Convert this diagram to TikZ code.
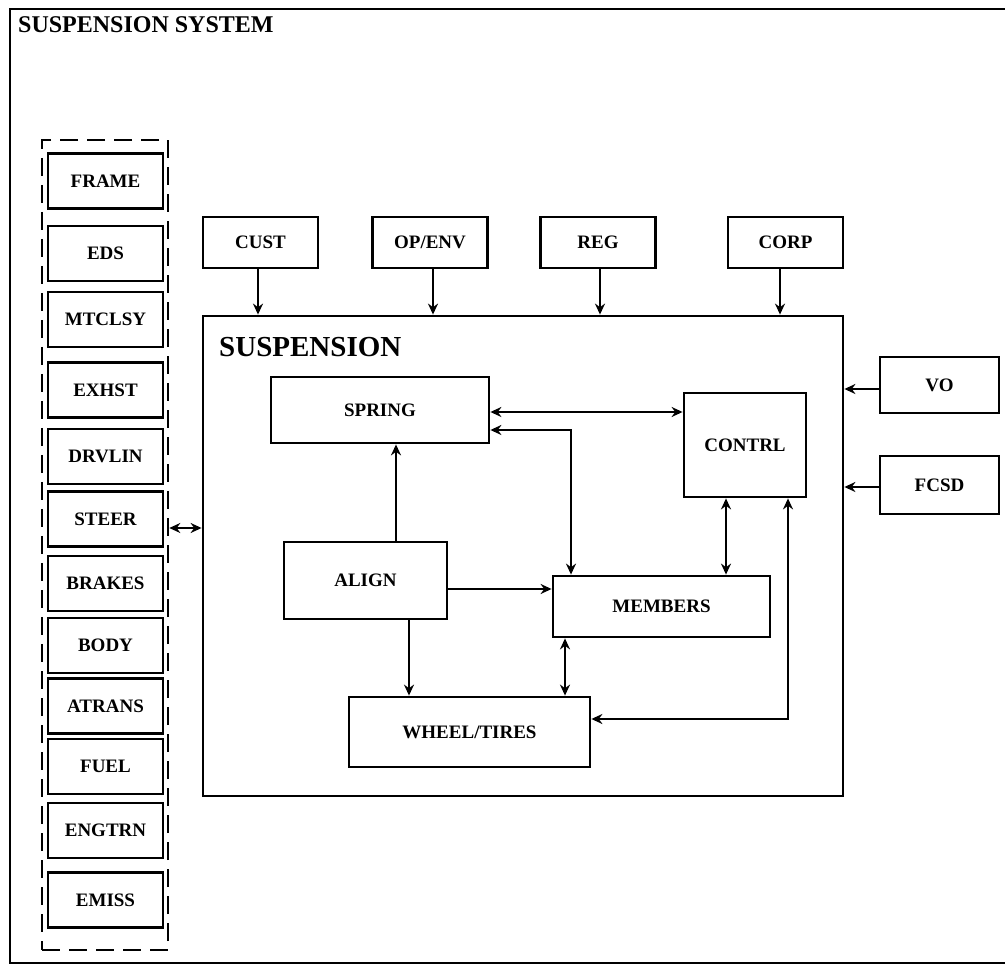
\documentclass[tikz,border=0pt]{standalone}
\usepackage{fontspec}
\setmainfont{Liberation Serif}
\usetikzlibrary{arrows.meta,calc}
\begin{document}
\begin{tikzpicture}[x=1pt,y=-1pt,
  box/.style={draw, line width=2.8pt, inner sep=0pt, minimum width=115pt, minimum height=55pt,
    font=\bfseries\fontsize{19pt}{19pt}\selectfont},
  con/.style={line width=2.3pt, -{Stealth[length=11pt,width=10pt]}},
  dcon/.style={line width=2.3pt, {Stealth[length=11pt,width=10pt]}-{Stealth[length=11pt,width=10pt]}}]
\useasboundingbox (0,0) rectangle (1005,965);
\fill[white] (0,0) rectangle (1005,965);
% outer frame
\draw[line width=2.4pt] (1005,9) -- (10,9) -- (10,963) -- (1005,963);
\node[anchor=base west, inner sep=0pt, font=\bfseries\fontsize{24pt}{24pt}\selectfont] (title) at (18,33) {SUSPENSION SYSTEM};
% left group
\node[draw, line width=2.6pt, dash pattern=on 18pt off 9pt, inner sep=0pt, minimum width=126pt, minimum height=810pt] (group) at (105,545) {};
\node[box] (frame)  at (105.5,181)   {FRAME};
\node[box] (eds)    at (105.5,253.5) {EDS};
\node[box] (mtclsy) at (105.5,319.5) {MTCLSY};
\node[box] (exhst)  at (105.5,390)   {EXHST};
\node[box] (drvlin) at (105.5,456.5) {DRVLIN};
\node[box] (steer)  at (105.5,519)   {STEER};
\node[box] (brakes) at (105.5,583.5) {BRAKES};
\node[box] (body)   at (105.5,645.5) {BODY};
\node[box] (atrans) at (105.5,706)   {ATRANS};
\node[box] (fuel)   at (105.5,766.5) {FUEL};
\node[box] (engtrn) at (105.5,830.5) {ENGTRN};
\node[box] (emiss)  at (105.5,900)   {EMISS};
% suspension
\node[draw, line width=2.8pt, inner sep=0pt, minimum width=640pt, minimum height=480pt] (susp) at (523,556) {};
\node[anchor=base west, inner sep=0pt, font=\bfseries\fontsize{29pt}{29pt}\selectfont] (susplabel) at (219,357) {SUSPENSION};
% top boxes
\node[box, minimum height=51pt] (cust)  at (260.5,242.5) {CUST};
\node[box, minimum height=51pt] (openv) at (430,242.5)   {OP/ENV};
\node[box, minimum height=51pt] (reg)   at (598,242.5)   {REG};
\node[box, minimum height=51pt] (corp)  at (785.5,242.5) {CORP};
% right boxes
\node[box, minimum width=119pt, minimum height=56pt] (vo)   at (939.5,385) {VO};
\node[box, minimum width=119pt, minimum height=58pt] (fcsd) at (939.5,485) {FCSD};
% inner boxes
\node[box, minimum width=218pt, minimum height=66pt]  (spring)  at (380,410)    {SPRING};
\node[box, minimum width=122pt, minimum height=104pt] (contrl)  at (745,445)    {CONTRL};
\node[box, minimum width=163pt, minimum height=77pt]  (align)   at (365.5,580.5) {ALIGN};
\node[box, minimum width=217pt, minimum height=61pt]  (members) at (661.5,606.5) {MEMBERS};
\node[box, minimum width=241pt, minimum height=70pt]  (wheel)   at (469.5,732)  {WHEEL/TIRES};
% connectors
\draw[dcon] (group.east |- 0,528) -- (susp.west |- 0,528);
\draw[con] (cust.south -| 258,0) -- (susp.north -| 258,0);
\draw[con] (openv.south -| 433,0) -- (susp.north -| 433,0);
\draw[con] (reg.south -| 600,0) -- (susp.north -| 600,0);
\draw[con] (corp.south -| 780,0) -- (susp.north -| 780,0);
\draw[con] (vo.west |- 0,389) -- (susp.east |- 0,389);
\draw[con] (fcsd.west |- 0,487) -- (susp.east |- 0,487);
\draw[dcon] (spring.east |- 0,412) -- (contrl.west |- 0,412);
\draw[dcon] (spring.east |- 0,430) -| (members.north -| 571,0);
\draw[con] (align.north -| 396,0) -- (spring.south -| 396,0);
\draw[con] (align.east |- 0,589) -- (members.west |- 0,589);
\draw[con] (align.south -| 409,0) -- (wheel.north -| 409,0);
\draw[dcon] (members.south -| 565,0) -- (wheel.north -| 565,0);
\draw[dcon] (contrl.south -| 726,0) -- (members.north -| 726,0);
\draw[dcon] (wheel.east |- 0,719) -| (contrl.south -| 788,0);
\end{tikzpicture}
\end{document}
